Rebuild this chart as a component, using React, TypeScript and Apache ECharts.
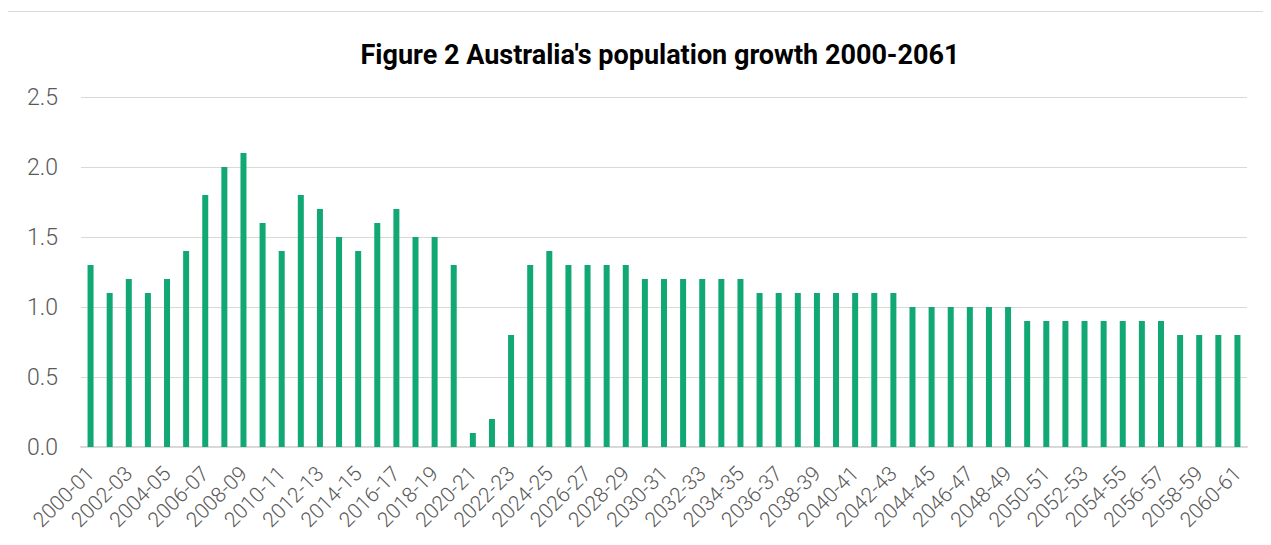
import React, { useEffect, useRef } from "react";
import * as echarts from "echarts";

const categories: string[] = [];
for (let y = 2000; y <= 2060; y++) {
  categories.push(`${y}-${String((y + 1) % 100).padStart(2, "0")}`);
}

const growth: number[] = [
  1.3, 1.1, 1.2, 1.1, 1.2, 1.4, 1.8, 2.0, 2.1, 1.6,
  1.4, 1.8, 1.7, 1.5, 1.4, 1.6, 1.7, 1.5, 1.5, 1.3,
  0.1, 0.2, 0.8, 1.3, 1.4, 1.3, 1.3, 1.3, 1.3, 1.2,
  1.2, 1.2, 1.2, 1.2, 1.2, 1.1, 1.1, 1.1, 1.1, 1.1,
  1.1, 1.1, 1.1, 1.0, 1.0, 1.0, 1.0, 1.0, 1.0, 0.9,
  0.9, 0.9, 0.9, 0.9, 0.9, 0.9, 0.9, 0.8, 0.8, 0.8,
  0.8,
];

const titleText = "Figure 2 Australia's population growth 2000-2061";

export default function App() {
  const ref = useRef<HTMLDivElement>(null);
  useEffect(() => {
    if (!ref.current) return;
    const chart = echarts.init(ref.current, undefined, { renderer: "svg" });
    chart.setOption({
      animation: false,
      backgroundColor: "#ffffff",
      textStyle: { fontFamily: "Roboto" },
      title: {
        text: titleText,
        left: 647,
        top: 24,
        textAlign: "center",
        textStyle: {
          fontFamily: "Roboto",
          fontWeight: "bold",
          fontSize: 27,
          color: "#000000",
        },
      },
      grid: { left: 73, right: 24, top: 85, bottom: 98, containLabel: false },
      xAxis: {
        type: "category",
        data: categories,
        axisLine: { show: true, lineStyle: { color: "#d9d9d9", width: 2 } },
        axisTick: { show: false },
        axisLabel: {
          interval: 1,
          rotate: 45,
          margin: 23,
          fontFamily: "Roboto",
          fontWeight: 300,
          fontSize: 21,
          color: "#595959",
        },
      },
      yAxis: {
        type: "value",
        min: 0,
        max: 2.5,
        interval: 0.5,
        axisLine: { show: false },
        axisTick: { show: false },
        splitLine: { lineStyle: { color: "#d9d9d9", width: 1 } },
        axisLabel: {
          margin: 23,
          fontFamily: "Roboto",
          fontWeight: 300,
          fontSize: 23,
          color: "#595959",
          formatter: (v: number) => v.toFixed(1),
        },
      },
      series: [
        {
          type: "bar",
          data: growth,
          barWidth: 6,
          itemStyle: { color: "#12a873" },
        },
      ],
    });
    return () => chart.dispose();
  }, []);
  return (
    <div
      ref={ref}
      style={{
        width: 1263,
        height: 533,
        marginTop: 3,
        marginLeft: -1,
        borderTop: "1px solid #d9d9d9",
        borderLeft: "1px solid #d9d9d9",
      }}
    />
  );
}
